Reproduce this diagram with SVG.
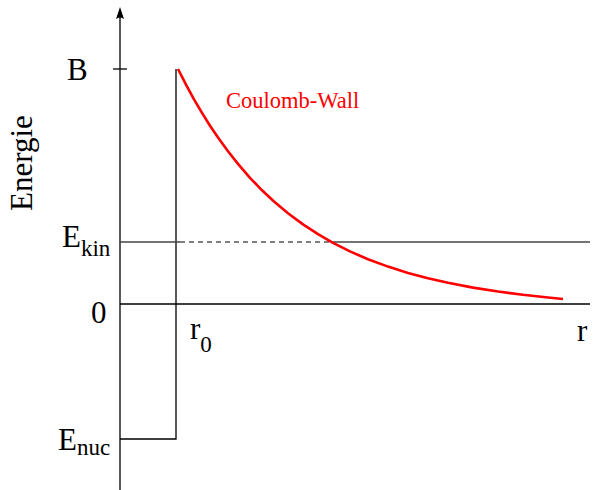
<svg xmlns="http://www.w3.org/2000/svg" width="595" height="490" viewBox="0 0 595 490">
<style>
.ln{stroke:#000;stroke-width:1.3;fill:none}
.gr{stroke:#444;stroke-width:1.3;fill:none}
.t{font-family:"Liberation Serif","Times New Roman",serif;fill:#000}
.big{font-size:31px}
.sub{font-size:23px}
</style>
<g id="axes">
<line class="ln" x1="120" y1="490" x2="120" y2="12"/>
<path d="M120,7 L124,19 Q120,16 116,19 Z" fill="#000"/>
<line class="ln" x1="113" y1="69" x2="127" y2="69"/>
<line class="ln" x1="120" y1="304" x2="590" y2="304"/>
</g>
<g id="well">
<polyline class="ln" points="120,439 176,439 176,69"/>
</g>
<g id="ekin">
<line class="gr" x1="120" y1="242" x2="180" y2="242"/>
<line x1="180" y1="242" x2="333" y2="242" stroke="#000" stroke-width="1" stroke-dasharray="5,4"/>
<line class="gr" x1="333" y1="242" x2="590" y2="242"/>
</g>
<g id="coulomb">
<polyline fill="none" stroke="#ff0000" stroke-width="2.6" stroke-linejoin="round" points="178,69 186,84.7 194,99.3 202,112.9 210,125.7 218,137.5 228,151.3 238,163.9 250,177.8 262,190.3 274,201.5 288,213.3 303,224.4 318,234.2 333,242.8 350,251.4 368,259.2 388,266.6 408,272.9 428,278.3 448,282.8 473,287.6 498,291.5 523,294.8 548,297.5 563,299"/>
<text x="226" y="108" font-family="Liberation Serif, serif" font-size="22.5" fill="#ff0000">Coulomb-Wall</text>
</g>
<g id="labels">
<text class="t big" x="67" y="80">B</text>
<text class="t big" x="32" y="211" transform="rotate(-90 32 211)">Energie</text>
<text class="t big" x="62" y="247">E<tspan class="sub" dy="9">kin</tspan></text>
<text class="t big" x="91" y="323">0</text>
<text class="t big" x="190" y="339">r<tspan class="sub" dy="13">0</tspan></text>
<text class="t big" x="577" y="341">r</text>
<text class="t big" x="58" y="450">E<tspan class="sub" dy="5">nuc</tspan></text>
</g>
</svg>
